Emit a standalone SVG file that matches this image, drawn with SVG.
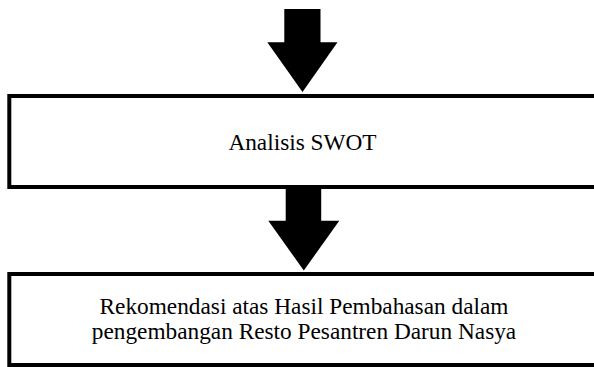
<svg xmlns="http://www.w3.org/2000/svg" width="594" height="367" viewBox="0 0 594 367">
<style>
.box{fill:#fff;stroke:#000;stroke-width:4}
.arrow{fill:#000;stroke:none}
text{font-family:"Liberation Serif","Times New Roman",serif;font-size:23.3px;fill:#000;text-anchor:middle}
</style>
<rect x="0" y="0" width="594" height="367" fill="#fff"/>
<g id="connectors">
<polygon class="arrow" points="284.3,9 320.5,9 320.5,42.3 337.5,42.3 302.5,92 267.3,42.3 284.3,42.3"/>
<polygon class="arrow" points="285.7,189 321.2,189 321.2,220.7 339.3,220.7 303.8,270.5 268.3,220.7 285.7,220.7"/>
</g>
<g id="node-swot">
<rect class="box" x="9.3" y="96" width="587.4" height="91"/>
<text x="302.5" y="150">Analisis SWOT</text>
</g>
<g id="node-rekomendasi">
<rect class="box" x="9.3" y="274" width="587.4" height="91"/>
<text x="304" y="314">Rekomendasi atas Hasil Pembahasan dalam</text>
<text x="304" y="339.3">pengembangan Resto Pesantren Darun Nasya</text>
</g>
</svg>
